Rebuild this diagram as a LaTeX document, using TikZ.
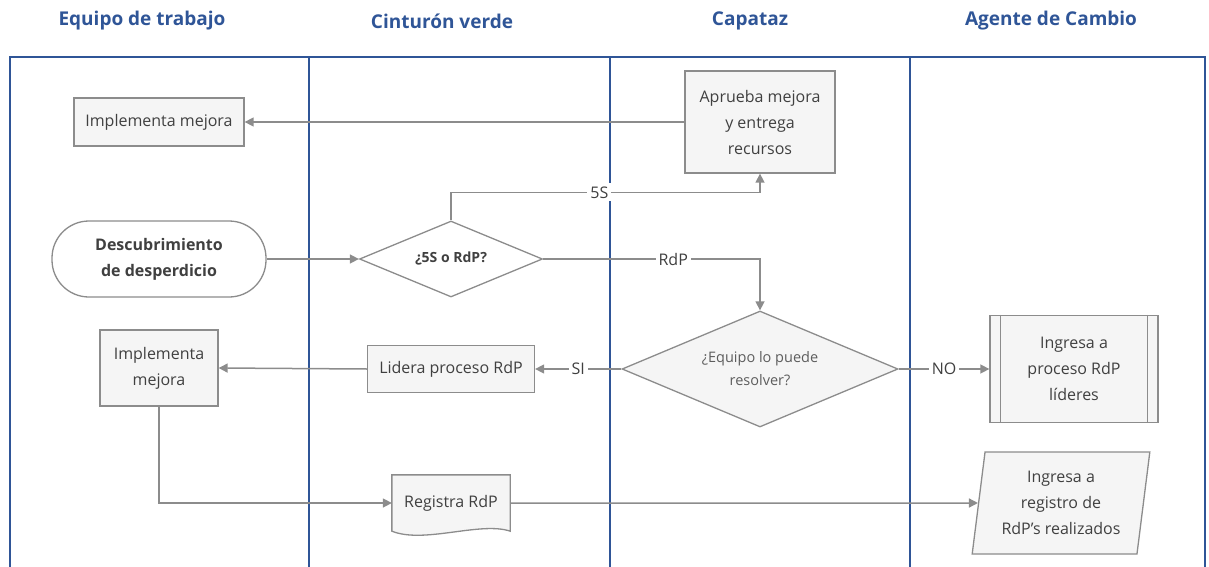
\documentclass[tikz,border=0pt]{standalone}
\usepackage{fontspec}
\setmainfont{Open Sans}
\usetikzlibrary{shapes.geometric,arrows.meta,backgrounds}

\definecolor{lane}{RGB}{47,85,151}
\definecolor{edgegray}{RGB}{140,140,140}
\definecolor{boxfill}{RGB}{245,245,245}
\definecolor{txt}{RGB}{64,64,64}

\begin{document}
\begin{tikzpicture}[x=1pt,y=-1pt,
  lanehead/.style={font=\fontsize{19}{22}\selectfont\bfseries, text=lane},
  box/.style={draw=edgegray, fill=boxfill, line width=1.3pt, text=txt, align=center,
              font=\fontsize{16}{26}\selectfont, inner sep=0pt},
  decision/.style={box, diamond, aspect=2.4},
  flow/.style={draw=edgegray, line width=1.5pt, -{Triangle[length=9pt,width=9pt]}},
  tag/.style={fill=white, text=txt, font=\fontsize{16}{20}\selectfont, inner sep=3pt}]

  \useasboundingbox (0,0) rectangle (1209,567);

  % carriles
  \draw[lane, line width=2.8pt] (10,575) |- (1205,57) -- (1205,575);
  \foreach \x in {309,610,910}
    \draw[lane, line width=2.8pt] (\x,57) -- (\x,575);

  \node[lanehead] (hequipo)  at (142,21)  {Equipo de trabajo};
  \node[lanehead] (hcinto)   at (442,21)  {Cinturón verde};
  \node[lanehead] (hcapataz) at (750,21)  {Capataz};
  \node[lanehead] (hagente)  at (1051,21) {Agente de Cambio};

  % nodos
  \node[box, minimum width=170pt, minimum height=48pt]  (impl1)   at (159,122) {Implementa mejora};
  \node[box, minimum width=150pt, minimum height=102pt] (aprueba) at (760,122) {Aprueba mejora\\y entrega\\recursos};
  \node[box, fill=white, rounded corners=37pt, minimum width=214pt, minimum height=76pt,
        font=\fontsize{16}{26}\selectfont\bfseries]      (descub)  at (159,259) {Descubrimiento\\de desperdicio};
  \node[decision, fill=white, minimum width=183pt, minimum height=76pt,
        font=\fontsize{14}{18}\selectfont\bfseries]      (q5s)     at (451,259) {¿5S o RdP?};
  \node[decision, minimum width=276pt, minimum height=116pt,
        font=\fontsize{14.5}{23}\selectfont, text=txt!85] (qequipo) at (760,369) {¿Equipo lo puede\\resolver?};
  \node[box, minimum width=118pt, minimum height=76pt]  (impl2)   at (159,368) {Implementa\\mejora};
  \node[box, minimum width=167pt, minimum height=47pt]  (lidera)  at (451,369) {Lidera proceso RdP};
  \node[box, minimum width=168pt, minimum height=107pt] (ingproc) at (1074,369) {Ingresa a\\proceso RdP\\líderes};
  \draw[edgegray, line width=1.3pt]
    ([xshift=11pt]ingproc.north west) -- ([xshift=11pt]ingproc.south west)
    ([xshift=-11pt]ingproc.north east) -- ([xshift=-11pt]ingproc.south east);
  \node[box, draw=none, fill=none, minimum width=117pt, minimum height=55pt] (registra) at (451,503) {Registra RdP};
  \begin{scope}[on background layer]
    \draw[edgegray, fill=boxfill, line width=1.3pt]
      (registra.north west) -- (registra.north east) -- (registra.south east)
      .. controls +(-30,-10) and +(32,13) .. (registra.south west) -- cycle;
  \end{scope}
  \node[box, trapezium, trapezium left angle=81, trapezium right angle=99, trapezium stretches=true,
        minimum width=178pt, minimum height=102pt]      (ingreg)  at (1061,503) {Ingresa a\\registro de\\RdP's realizados};

  % conectores
  \draw[flow] (aprueba.west) -- (impl1.east);
  \draw[flow] (descub.east) -- (q5s.west);
  \draw[flow] (q5s.north) -- ++(0,-28) -| node[tag, pos=0.24] {5S} (aprueba.south);
  \draw[flow] (q5s.east) -| node[tag, pos=0.3] {RdP} (qequipo.north);
  \draw[flow] (qequipo.west) -- node[tag] {SI} (lidera.east);
  \draw[flow] (lidera.west) -- (impl2.east);
  \draw[flow] (qequipo.east) -- node[tag] {NO} (ingproc.west);
  \draw[flow] (impl2.south) |- (registra.west);
  \draw[flow] (registra.east) -- (ingreg.west);
\end{tikzpicture}
\end{document}
